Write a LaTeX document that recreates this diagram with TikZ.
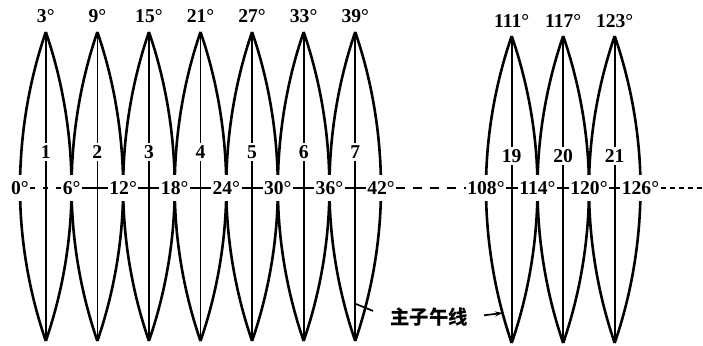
\documentclass[tikz,border=0pt]{standalone}
\usepackage{fontspec}
\setmainfont{Liberation Serif}
\newfontfamily\cjk{Noto Sans CJK SC}
\usetikzlibrary{backgrounds,arrows.meta}
\begin{document}
\begin{tikzpicture}[x=0.5pt,y=0.5pt,
  lbl/.style={font=\fontsize{9.8}{11}\selectfont\bfseries, inner sep=1.2pt},
  eqlbl/.style={lbl, fill=white, minimum height=13pt, inner xsep=0.6pt},
  side/.style={line width=1.3pt},
  mer/.style={line width=0.85pt},
  eqline/.style={line width=0.8pt},
  leader/.style={line width=0.85pt}]
\useasboundingbox (0,0) rectangle (703,346);
% equator labels
\foreach \j in {0,...,7}{
  \pgfmathtruncatemacro\dg{6*\j}
  \node[eqlbl] (e\j) at ({20+51.57*\j},158) {\dg°};
}
\foreach \j in {18,...,21}{
  \pgfmathtruncatemacro\dg{6*\j}
  \node[eqlbl] (e\j) at ({486+51.5*(\j-18)},158) {\dg°};
}
% gores, left group
\foreach \k in {1,...,7}{
  \pgfmathtruncatemacro\dg{6*\k-3}
  \coordinate (t\k) at ({45.8+51.57*(\k-1)},314);
  \coordinate (b\k) at ({45.8+51.57*(\k-1)},5);
  \node[lbl] (d\k) at ({45.8+51.57*(\k-1)},330) {\dg°};
  \node[lbl] (n\k) at ({45.8+51.57*(\k-1)},194) {\k};
}
% gores, right group
\foreach \k in {19,20,21}{
  \pgfmathtruncatemacro\dg{6*\k-3}
  \coordinate (t\k) at ({511.7+51.5*(\k-19)},310);
  \coordinate (b\k) at ({511.7+51.5*(\k-19)},3);
  \node[lbl] (d\k) at ({511.7+51.5*(\k-19)},325) {\dg°};
  \node[lbl] (n\k) at ({511.7+51.5*(\k-19)},190) {\k};
}
\begin{pgfonlayer}{background}
\foreach \k in {1,2,3,4,5,6,7,19,20,21}{
  \pgfmathtruncatemacro\lft{\k-1}
  \draw[side] (t\k) to[out=-109,in=90,looseness=0.85] (e\lft.center)
                   to[out=-90,in=109,looseness=0.85] (b\k);
  \draw[side] (t\k) to[out=-71,in=90,looseness=0.85] (e\k.center)
                   to[out=-90,in=71,looseness=0.85] (b\k);
}
\end{pgfonlayer}
% central meridians
\foreach \k in {1,2,3,4,5,6,7,19,20,21}{
  \draw[mer] (t\k) -- (n\k);
  \draw[mer] (n\k) -- (b\k);
}
% equator
\draw[eqline, dash pattern=on 2.5pt off 4pt] (e0) -- (e1);
\foreach \a/\b in {1/2,2/3,3/4,4/5,5/6,6/7,18/19,19/20,20/21}
  \draw[eqline] (e\a) -- (e\b);
\draw[eqline, dash pattern=on 4.5pt off 4pt] (e7) -- (e18);
\coordinate (eqend) at (703,158);
\draw[eqline, dash pattern=on 2.5pt off 2pt] (e21) -- (eqend);
% label
\node[font=\cjk\bfseries\fontsize{9.7}{11}\selectfont, inner sep=1pt] (lab) at (429,29) {主子午线};
\coordinate (m7) at (356,42);
\coordinate (m19) at (503,33);
\draw[leader, shorten <=8pt] (lab.west) -- (m7);
\draw[leader, -{Stealth[length=4pt,width=2.5pt]}, shorten <=7pt] (lab.east) -- (m19);
\end{tikzpicture}
\end{document}
